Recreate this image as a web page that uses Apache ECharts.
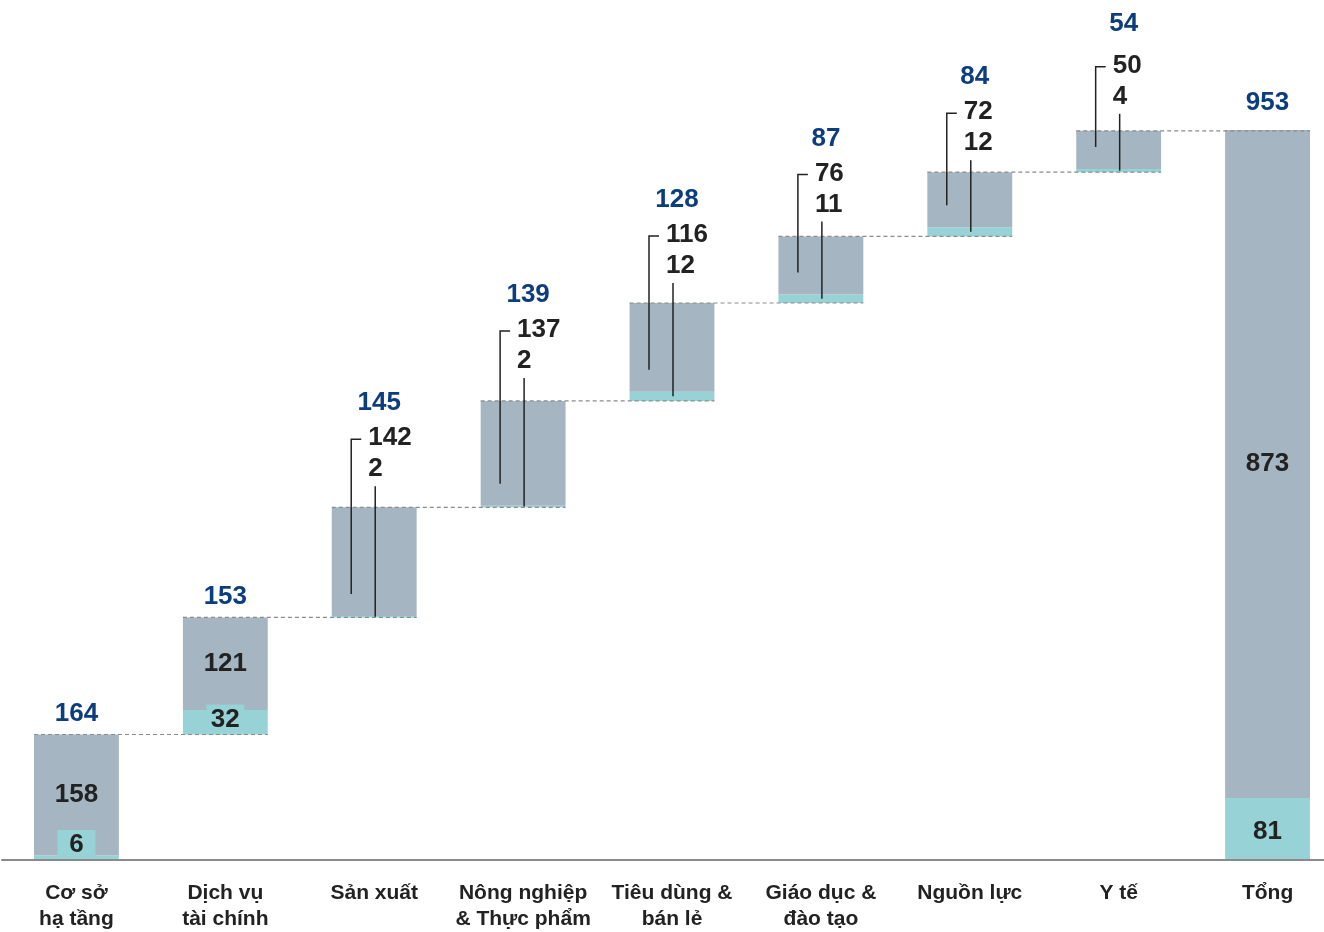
<!DOCTYPE html>
<html>
<head>
<meta charset="utf-8">
<script src="https://cdn.jsdelivr.net/npm/echarts@6/dist/echarts.min.js"></script>
<style>
  html, body { margin: 0; padding: 0; background: #ffffff; }
  #chart { width: 1324px; height: 932px; }
</style>
</head>
<body>
<div id="chart"></div>
<script>
// Sector contributions (waterfall), grey = main part, teal = smaller part
const categories = [
  'Cơ sở\nhạ tầng',
  'Dịch vụ\ntài chính',
  'Sản xuất',
  'Nông nghiệp\n& Thực phẩm',
  'Tiêu dùng &\nbán lẻ',
  'Giáo dục &\nđào tạo',
  'Nguồn lực',
  'Y tế',
  'Tổng'
];
const greyValues  = [158, 121, 142, 137, 116, 76, 72, 50, 873];
const tealValues  = [6, 32, 2, 2, 12, 11, 12, 4, 81];
const totalLabels = [164, 153, 145, 139, 128, 87, 84, 54, 953];
// bars wide enough to hold their own numbers; the rest get callouts above
const insideLabelBars = [0, 1, 8];

// small vertical nudges (px, up = positive) for each callout block and its total
const calloutNudge = [0, 0, 0, 2, -1, -6, -9, -4, 0];
const totalNudge   = [0, 0, 0, 0, 0, 0, 0, 7, 0];

const GREY = '#a5b5c1';
const TEAL = '#97d3d6';
const BLUE = '#0c3d7e';
const INK = '#222222';
const FONT = '"Liberation Sans", Arial, Helvetica, sans-serif';
const NUM_SIZE = 26;
const BAR_RATIO = 0.57;

const lastIdx = categories.length - 1;
const bases = [];
let running = 0;
categories.forEach((c, i) => {
  if (i === lastIdx) {
    bases.push(0);
  } else {
    bases.push(running);
    running += greyValues[i] + tealValues[i];
  }
});

const annotationData = categories.map((c, i) => [i, bases[i], tealValues[i], greyValues[i], totalLabels[i]]);

function textEl(text, x, y, color, align) {
  return {
    type: 'text',
    style: {
      text: String(text),
      x: x, y: y,
      fill: color,
      font: 'bold ' + NUM_SIZE + 'px ' + FONT,
      align: align,
      verticalAlign: 'middle'
    }
  };
}

function renderAnnotations(params, api) {
  const i = api.value(0);
  const base = api.value(1);
  const teal = api.value(2);
  const grey = api.value(3);
  const total = api.value(4);
  const top = base + teal + grey;
  const band = api.size([1, 0])[0];
  const bw = band * BAR_RATIO;
  const pTop = api.coord([i, top]);
  const cx = pTop[0];
  const yTop = pTop[1];
  const children = [];

  // dashed connector to the next bar
  if (i < lastIdx) {
    const nx = api.coord([i + 1, top])[0];
    children.push({
      type: 'line',
      shape: { x1: cx - bw / 2, y1: yTop, x2: nx + bw / 2, y2: yTop },
      style: { stroke: '#8c8c8c', lineWidth: 1.2, lineDash: [4, 3] }
    });
  }

  if (insideLabelBars.indexOf(i) >= 0) {
    children.push(textEl(total, cx, yTop - (i === lastIdx ? 27 : 21), BLUE, 'center'));
  } else {
    const lift = calloutNudge[i] || 0;
    const tealTopY = api.coord([i, base + teal])[1];
    const tealMidY = api.coord([i, base + teal / 2])[1];
    const textLeft = cx - 6;
    const greyY = yTop - 69 - lift;
    const tealY = yTop - 38 - lift;
    const bx = cx - 23;
    children.push(textEl(total, cx + 5, yTop - 104 - lift - (totalNudge[i] || 0), BLUE, 'center'));
    children.push(textEl(grey, textLeft, greyY, INK, 'left'));
    children.push(textEl(teal, textLeft, tealY, INK, 'left'));
    // bracket leader into the grey part
    children.push({
      type: 'polyline',
      shape: { points: [[bx + 10, greyY + 1], [bx, greyY + 1], [bx, tealTopY - 22]] },
      style: { stroke: INK, lineWidth: 1.5, fill: null }
    });
    // straight leader into the teal part
    children.push({
      type: 'line',
      shape: { x1: textLeft + 7, y1: tealY + 17, x2: textLeft + 7, y2: tealMidY },
      style: { stroke: INK, lineWidth: 1.5 }
    });
  }
  return { type: 'group', children: children };
}

const chart = echarts.init(document.getElementById('chart'), null, { renderer: 'canvas' });

chart.setOption({
  backgroundColor: '#ffffff',
  animation: false,
  textStyle: { fontFamily: FONT },
  grid: { left: 2, width: 1340, top: 0, bottom: 72, containLabel: false, outerBoundsMode: 'none' },
  xAxis: {
    type: 'category',
    data: categories,
    axisTick: { show: false },
    axisLine: { lineStyle: { color: '#8a8a8a', width: 2 } },
    axisLabel: {
      interval: 0,
      fontSize: 21,
      fontWeight: 'bold',
      color: INK,
      lineHeight: 26,
      margin: 20,
      fontFamily: FONT
    },
    z: 5
  },
  yAxis: {
    type: 'value',
    min: 0,
    max: 1124,
    show: false,
    splitLine: { show: false }
  },
  series: [
    {
      name: 'base',
      type: 'bar',
      stack: 'w',
      barWidth: (BAR_RATIO * 100) + '%',
      silent: true,
      itemStyle: { color: 'transparent' },
      emphasis: { disabled: true },
      data: bases
    },
    {
      name: 'teal',
      type: 'bar',
      stack: 'w',
      barWidth: (BAR_RATIO * 100) + '%',
      itemStyle: { color: TEAL },
      emphasis: { disabled: true },
      data: tealValues.map((v, i) => {
        let label = { show: false };
        if (i === lastIdx) {
          label = { show: true, position: 'inside', offset: [0, 3], color: INK, fontSize: NUM_SIZE, fontWeight: 'bold', fontFamily: FONT };
        } else if (insideLabelBars.indexOf(i) >= 0) {
          label = {
            show: true, position: 'insideBottom', distance: 0,
            color: INK, fontSize: NUM_SIZE, fontWeight: 'bold', fontFamily: FONT,
            backgroundColor: TEAL, width: 38, height: 30, lineHeight: 30,
            align: 'center', padding: 0
          };
        }
        return { value: v, label: label };
      })
    },
    {
      name: 'grey',
      type: 'bar',
      stack: 'w',
      barWidth: (BAR_RATIO * 100) + '%',
      itemStyle: { color: GREY },
      emphasis: { disabled: true },
      data: greyValues.map((v, i) => ({
        value: v,
        label: {
          show: insideLabelBars.indexOf(i) >= 0,
          position: 'inside',
          color: INK, fontSize: NUM_SIZE, fontWeight: 'bold', fontFamily: FONT
        }
      }))
    },
    {
      name: 'annotations',
      type: 'custom',
      renderItem: renderAnnotations,
      encode: { x: 0, y: 1 },
      data: annotationData,
      z: 10,
      silent: true,
      clip: false
    }
  ]
});
</script>
</body>
</html>
